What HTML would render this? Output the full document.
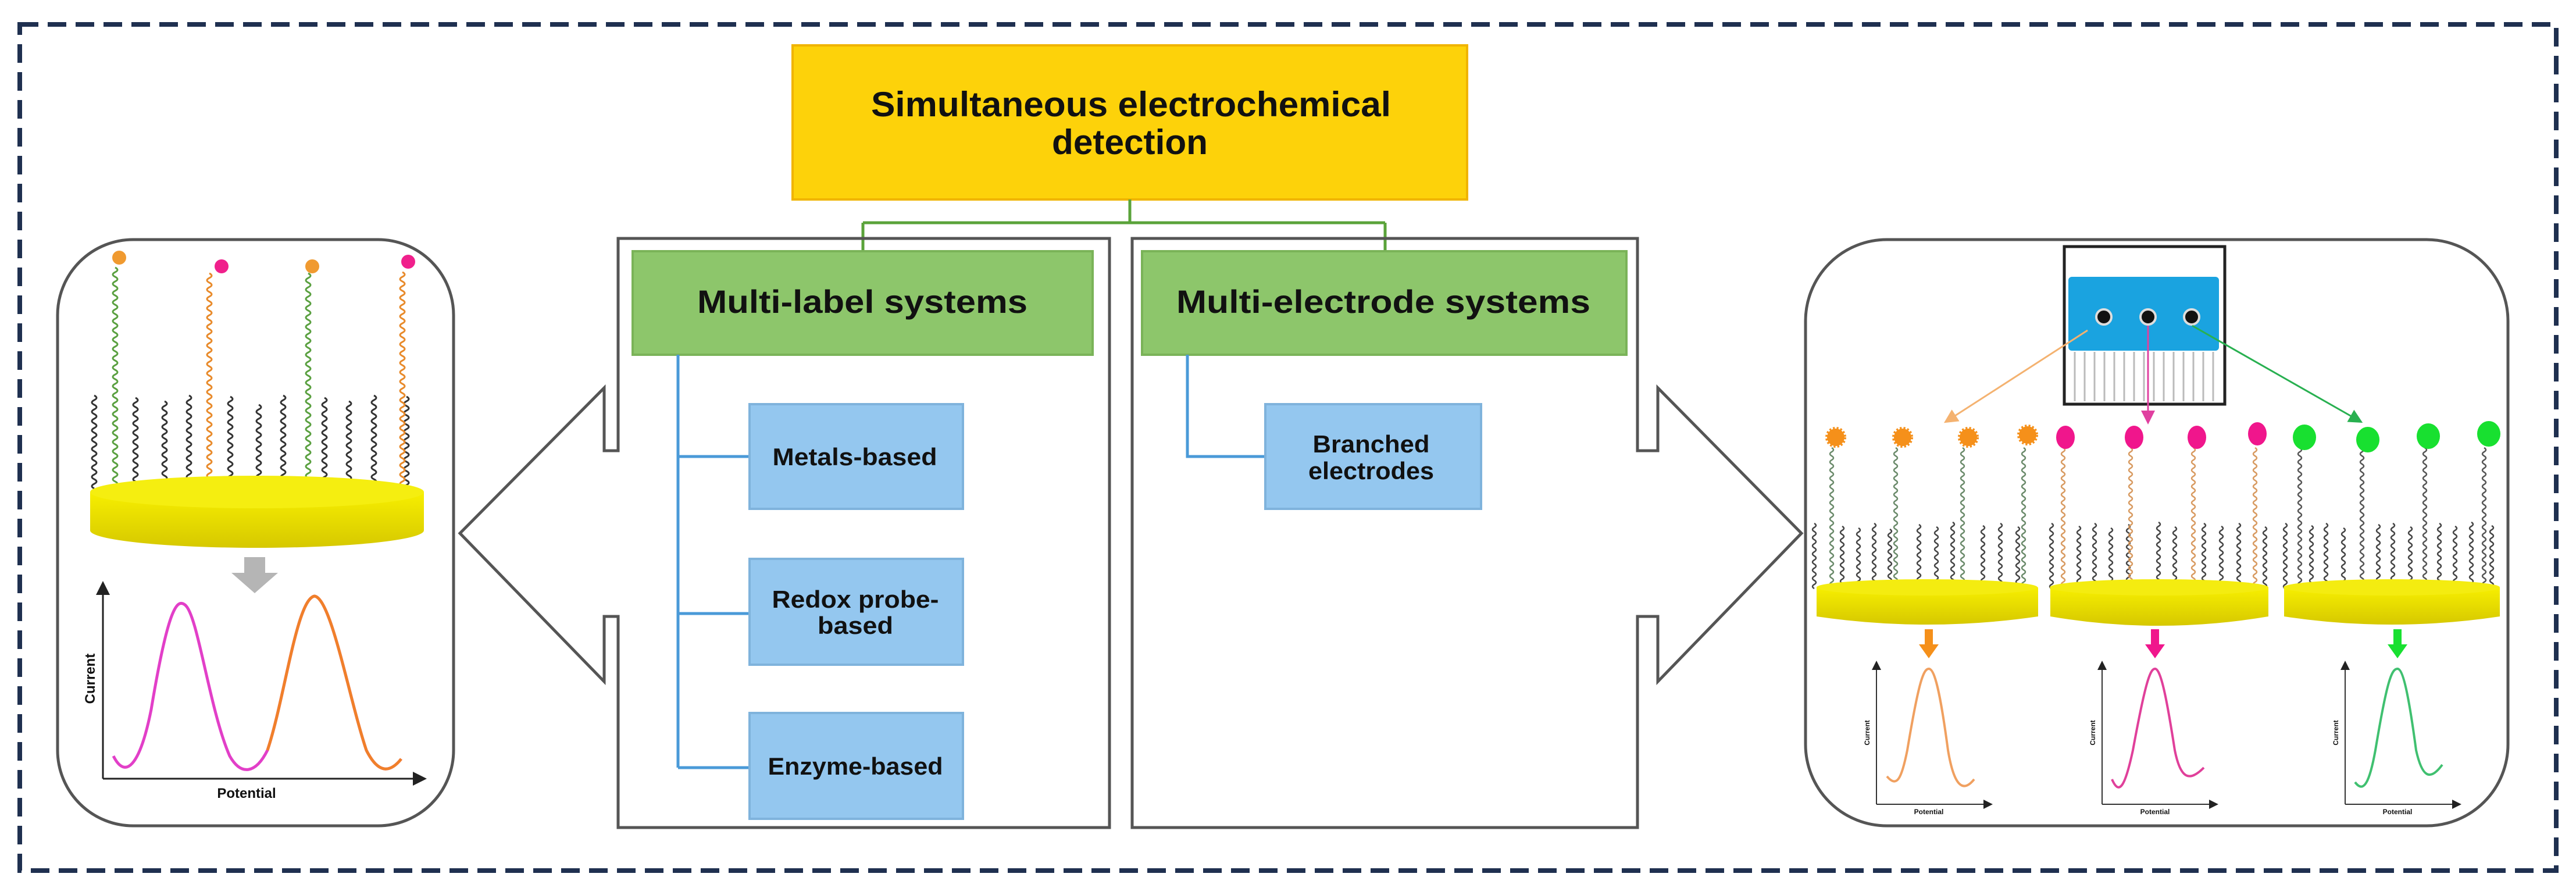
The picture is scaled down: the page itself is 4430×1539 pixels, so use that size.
<!DOCTYPE html>
<html><head><meta charset="utf-8"><style>
html,body{margin:0;padding:0;background:#fff}
svg{display:block}
text{font-family:"Liberation Sans",sans-serif;font-weight:bold;fill:#111}
</style></head><body>
<svg width="4430" height="1539" viewBox="0 0 4430 1539" xmlns="http://www.w3.org/2000/svg">
<defs>
<path id="sl" fill="none" stroke-width="3" d="M0 0 q8 4 0 8 t0 8 t0 8 t0 8 t0 8 t0 8 t0 8 t0 8 t0 8 t0 8 t0 8 t0 8 t0 8 t0 8 t0 8 t0 8 t0 8 t0 8 t0 8 t0 8"/>
<path id="ll" fill="none" stroke-width="3" d="M0 0 q8 4 0 8 t0 8 t0 8 t0 8 t0 8 t0 8 t0 8 t0 8 t0 8 t0 8 t0 8 t0 8 t0 8 t0 8 t0 8 t0 8 t0 8 t0 8 t0 8 t0 8 t0 8 t0 8 t0 8 t0 8 t0 8 t0 8 t0 8 t0 8 t0 8 t0 8 t0 8 t0 8 t0 8 t0 8 t0 8 t0 8 t0 8 t0 8 t0 8 t0 8 t0 8 t0 8 t0 8 t0 8 t0 8 t0 8 t0 8"/>
<path id="sr" fill="none" stroke-width="2.5" d="M0 0 q6 3.5 0 7 t0 7 t0 7 t0 7 t0 7 t0 7 t0 7 t0 7 t0 7 t0 7 t0 7 t0 7 t0 7 t0 7 t0 7 t0 7"/>
<path id="lr" fill="none" stroke-width="2.5" d="M0 0 q6 3.5 0 7 t0 7 t0 7 t0 7 t0 7 t0 7 t0 7 t0 7 t0 7 t0 7 t0 7 t0 7 t0 7 t0 7 t0 7 t0 7 t0 7 t0 7 t0 7 t0 7 t0 7 t0 7 t0 7 t0 7 t0 7 t0 7 t0 7 t0 7 t0 7 t0 7 t0 7 t0 7 t0 7 t0 7 t0 7"/>
<linearGradient id="gold" x1="0" y1="0" x2="0" y2="1"><stop offset="0" stop-color="#f7ef00"/><stop offset="1" stop-color="#d6c800"/></linearGradient>
<marker id="ao" markerWidth="8" markerHeight="8" refX="6" refY="4" orient="auto"><path d="M0 0 L8 4 L0 8 Z" fill="#f4b270"/></marker>
<marker id="ap" markerWidth="8" markerHeight="8" refX="6" refY="4" orient="auto"><path d="M0 0 L8 4 L0 8 Z" fill="#e040a0"/></marker>
<marker id="ag" markerWidth="8" markerHeight="8" refX="6" refY="4" orient="auto"><path d="M0 0 L8 4 L0 8 Z" fill="#28b050"/></marker>
<marker id="ax" markerWidth="8" markerHeight="8" refX="6" refY="4" orient="auto"><path d="M0 0 L8 4 L0 8 Z" fill="#222"/></marker>
</defs>

<!-- dashed frame -->
<rect x="34" y="42" width="4362" height="1455" fill="none" stroke="#1f3050" stroke-width="8" stroke-dasharray="32 16"/>

<!-- yellow title -->
<rect x="1363" y="78" width="1160" height="265" fill="#fdd20a" stroke="#f0b400" stroke-width="4"/>
<text x="1945" y="200" font-size="60" text-anchor="middle" textLength="894" lengthAdjust="spacingAndGlyphs">Simultaneous electrochemical</text>
<text x="1943" y="265" font-size="60" text-anchor="middle" textLength="268" lengthAdjust="spacingAndGlyphs">detection</text>

<!-- green connectors -->
<path d="M1943 343 V383 M1484 383 H2382 M1484 383 V432 M2382 383 V432" stroke="#5aa33a" stroke-width="5" fill="none"/>

<!-- outer boxes with arrows -->
<path d="M1063 410 H1908 V1423 H1063 V1060 H1039 V1172 L791 917 L1039 667 V775 H1063 Z" fill="none" stroke="#555" stroke-width="5"/>
<path d="M1947 410 H2816 V775 H2851 V667 L3098 917 L2851 1172 V1060 H2816 V1423 H1947 Z" fill="none" stroke="#555" stroke-width="5"/>

<!-- green boxes -->
<rect x="1088" y="432" width="791" height="178" fill="#8dc66b" stroke="#7ab358" stroke-width="4"/>
<text x="1483" y="538" font-size="56" text-anchor="middle" textLength="568" lengthAdjust="spacingAndGlyphs">Multi-label systems</text>
<rect x="1964" y="432" width="833" height="178" fill="#8dc66b" stroke="#7ab358" stroke-width="4"/>
<text x="2379" y="538" font-size="56" text-anchor="middle" textLength="712" lengthAdjust="spacingAndGlyphs">Multi-electrode systems</text>

<!-- blue tree -->
<path d="M1166 610 V1320 M1166 785 H1289 M1166 1055 H1289 M1166 1320 H1289 M2042 610 V785 H2176" stroke="#4a9ad8" stroke-width="5" fill="none"/>
<g fill="#94c7ef" stroke="#7fb3dc" stroke-width="4">
<rect x="1289" y="695" width="367" height="180"/>
<rect x="1289" y="961" width="367" height="182"/>
<rect x="1289" y="1226" width="367" height="182"/>
<rect x="2176" y="695" width="371" height="180"/>
</g>
<text x="1470" y="800" font-size="42" text-anchor="middle" textLength="283" lengthAdjust="spacingAndGlyphs">Metals-based</text>
<text x="1471" y="1045" font-size="42" text-anchor="middle" textLength="287" lengthAdjust="spacingAndGlyphs">Redox probe-</text>
<text x="1471" y="1090" font-size="42" text-anchor="middle" textLength="130" lengthAdjust="spacingAndGlyphs">based</text>
<text x="1471" y="1332" font-size="42" text-anchor="middle" textLength="301" lengthAdjust="spacingAndGlyphs">Enzyme-based</text>
<text x="2358" y="778" font-size="42" text-anchor="middle" textLength="201" lengthAdjust="spacingAndGlyphs">Branched</text>
<text x="2358" y="824" font-size="42" text-anchor="middle" textLength="216" lengthAdjust="spacingAndGlyphs">electrodes</text>

<!-- LEFT PANEL -->
<rect x="99" y="412" width="681" height="1008" rx="130" fill="#fff" stroke="#555" stroke-width="5"/>
<g stroke="#333">
<use href="#sl" x="162" y="680"/><use href="#sl" x="233" y="684"/><use href="#sl" x="283" y="690"/><use href="#sl" x="325" y="680"/>
<use href="#sl" x="396" y="682"/><use href="#sl" x="445" y="696"/><use href="#sl" x="487" y="680"/><use href="#sl" x="558" y="684"/>
<use href="#sl" x="600" y="690"/><use href="#sl" x="643" y="680"/><use href="#sl" x="699" y="682"/>
</g>
<use href="#ll" x="198" y="460" stroke="#5aa040"/>
<use href="#ll" x="360" y="470" stroke="#e88a2a"/>
<use href="#ll" x="530" y="470" stroke="#5aa040"/>
<use href="#ll" x="692" y="468" stroke="#e88a2a"/>
<circle cx="205" cy="443" r="12" fill="#f09a30"/>
<circle cx="381" cy="458" r="12" fill="#f0208c"/>
<circle cx="537" cy="458" r="12" fill="#f09a30"/>
<circle cx="702" cy="450" r="12" fill="#f0208c"/>
<path d="M155 846 V912 A287 30 0 0 0 729 912 V846 Z" fill="url(#gold)"/>
<ellipse cx="442" cy="846" rx="287" ry="28" fill="#f5ee10"/>
<path d="M420 958 H456 V985 H478 L438 1020 L398 985 H420 Z" fill="#b5b5b5"/>
<path d="M177 1339 V1005 M177 1339 H728" stroke="#222" stroke-width="3" fill="none" marker-end="url(#ax)"/>
<path d="M177 1339 V1005" stroke="#222" stroke-width="3" marker-end="url(#ax)"/>
<path d="M195 1300 C215 1340 240 1320 260 1220 C290 1040 305 1030 318 1040 C340 1055 360 1220 395 1300 C415 1335 440 1330 460 1290 C490 1200 510 1030 541 1025 C570 1030 600 1200 630 1290 C650 1330 670 1330 690 1305" fill="none" stroke="#e23fc8" stroke-width="5"/>
<path d="M460 1290 C490 1200 510 1030 541 1025 C570 1030 600 1200 630 1290 C650 1330 670 1330 690 1305" fill="none" stroke="#f0802a" stroke-width="5"/>
<text x="163" y="1167" font-size="24" text-anchor="middle" transform="rotate(-90 163 1167)">Current</text>
<text x="424" y="1372" font-size="24" text-anchor="middle">Potential</text>

<!-- RIGHT PANEL -->
<rect x="3105" y="412" width="1208" height="1008" rx="140" fill="#fff" stroke="#555" stroke-width="5"/>
<rect x="3550" y="424" width="276" height="271" fill="#fff" stroke="#222" stroke-width="5"/>
<rect x="3557" y="476" width="259" height="127" rx="6" fill="#1aa3e0"/>
<g stroke="#bbb" stroke-width="3">
<path d="M3568 605 V690 M3585 605 V690 M3602 605 V690 M3619 605 V690 M3636 605 V690 M3653 605 V690 M3670 605 V690 M3687 605 V690 M3704 605 V690 M3721 605 V690 M3738 605 V690 M3755 605 V690 M3772 605 V690 M3789 605 V690 M3806 605 V690"/>
</g>
<g fill="#111" stroke="#ddd" stroke-width="4">
<circle cx="3618" cy="545" r="13"/><circle cx="3694" cy="545" r="13"/><circle cx="3769" cy="545" r="13"/>
</g>
<path d="M3590 568 L3348 724" stroke="#f4b270" stroke-width="3" marker-end="url(#ao)"/>
<path d="M3694 560 V724" stroke="#e040a0" stroke-width="3" marker-end="url(#ap)"/>
<path d="M3770 560 L4058 724" stroke="#28b050" stroke-width="3" marker-end="url(#ag)"/>
<g stroke="#444">
<use href="#sr" x="3120" y="900"/><use href="#sr" x="3168" y="905"/><use href="#sr" x="3196" y="908"/><use href="#sr" x="3223" y="900"/><use href="#sr" x="3250" y="910"/><use href="#sr" x="3300" y="902"/><use href="#sr" x="3330" y="906"/><use href="#sr" x="3358" y="898"/><use href="#sr" x="3410" y="904"/><use href="#sr" x="3440" y="900"/><use href="#sr" x="3470" y="906"/>
<use href="#sr" x="3528" y="900"/><use href="#sr" x="3575" y="905"/><use href="#sr" x="3602" y="900"/><use href="#sr" x="3630" y="908"/><use href="#sr" x="3660" y="902"/><use href="#sr" x="3712" y="898"/><use href="#sr" x="3740" y="906"/><use href="#sr" x="3790" y="900"/><use href="#sr" x="3820" y="905"/><use href="#sr" x="3850" y="900"/><use href="#sr" x="3895" y="906"/>
<use href="#sr" x="3930" y="900"/><use href="#sr" x="3975" y="904"/><use href="#sr" x="4000" y="900"/><use href="#sr" x="4030" y="908"/><use href="#sr" x="4090" y="902"/><use href="#sr" x="4115" y="900"/><use href="#sr" x="4145" y="906"/><use href="#sr" x="4195" y="900"/><use href="#sr" x="4222" y="905"/><use href="#sr" x="4250" y="898"/><use href="#sr" x="4285" y="904"/>
</g>
<g stroke="#6a8a6a">
<use href="#lr" x="3150" y="770"/><use href="#lr" x="3260" y="770"/><use href="#lr" x="3375" y="770"/><use href="#lr" x="3480" y="770"/>
</g>
<g stroke="#d89a60">
<use href="#lr" x="3548" y="770"/><use href="#lr" x="3664" y="770"/><use href="#lr" x="3772" y="770"/><use href="#lr" x="3878" y="770"/>
</g>
<g stroke="#555">
<use href="#lr" x="3955" y="770"/><use href="#lr" x="4062" y="770"/><use href="#lr" x="4170" y="770"/><use href="#lr" x="4272" y="770"/>
</g>
<g fill="#f5901a" stroke="#f5901a" stroke-width="6" stroke-dasharray="3 3">
<circle cx="3157" cy="752" r="15"/><circle cx="3272" cy="752" r="15"/><circle cx="3385" cy="752" r="15"/><circle cx="3487" cy="748" r="15"/>
</g>
<g fill="#f0168c">
<ellipse cx="3552" cy="752" rx="16" ry="20"/><ellipse cx="3670" cy="752" rx="16" ry="20"/><ellipse cx="3778" cy="752" rx="16" ry="20"/><ellipse cx="3882" cy="746" rx="16" ry="20"/>
</g>
<g fill="#18e030">
<ellipse cx="3963" cy="752" rx="20" ry="22"/><ellipse cx="4072" cy="756" rx="20" ry="22"/><ellipse cx="4176" cy="750" rx="20" ry="22"/><ellipse cx="4280" cy="746" rx="20" ry="22"/>
</g>
<g fill="url(#gold)">
<path d="M3124 1010 V1060 Q3314 1088 3505 1060 V1010 Z"/>
<path d="M3526 1010 V1060 Q3713 1092 3901 1060 V1010 Z"/>
<path d="M3928 1010 V1060 Q4113 1088 4299 1060 V1010 Z"/>
</g>
<g fill="#f4ec10">
<ellipse cx="3314" cy="1010" rx="190" ry="14"/><ellipse cx="3713" cy="1010" rx="188" ry="14"/><ellipse cx="4113" cy="1010" rx="186" ry="14"/>
</g>
<path d="M3310 1082 H3324 V1108 H3334 L3317 1132 L3300 1108 H3310 Z" fill="#f5901a"/>
<path d="M3699 1082 H3713 V1108 H3723 L3706 1132 L3689 1108 H3699 Z" fill="#f0168c"/>
<path d="M4116 1082 H4130 V1108 H4140 L4123 1132 L4106 1108 H4116 Z" fill="#18e030"/>
<g stroke="#333" stroke-width="2" fill="none">
<path d="M3227 1383 V1140 M3227 1383 H3423" marker-end="url(#ax)"/><path d="M3227 1383 V1140" marker-end="url(#ax)"/>
<path d="M3615 1383 V1140 M3615 1383 H3811" marker-end="url(#ax)"/><path d="M3615 1383 V1140" marker-end="url(#ax)"/>
<path d="M4033 1383 V1140 M4033 1383 H4229" marker-end="url(#ax)"/><path d="M4033 1383 V1140" marker-end="url(#ax)"/>
</g>
<path d="M3245 1335 C3262 1355 3270 1340 3280 1290 C3300 1170 3308 1150 3317 1150 C3328 1150 3338 1200 3350 1290 C3360 1350 3375 1365 3395 1340" fill="none" stroke="#f0a060" stroke-width="4"/>
<path d="M3632 1340 C3645 1370 3655 1350 3668 1290 C3690 1170 3698 1150 3706 1150 C3716 1150 3726 1200 3740 1290 C3750 1340 3765 1345 3790 1320" fill="none" stroke="#e0409a" stroke-width="4"/>
<path d="M4050 1345 C4065 1365 4075 1345 4085 1290 C4105 1170 4113 1150 4123 1150 C4133 1150 4143 1200 4155 1290 C4165 1335 4178 1345 4200 1315" fill="none" stroke="#40c070" stroke-width="4"/>
<g font-size="12">
<text x="3215" y="1260" text-anchor="middle" transform="rotate(-90 3215 1260)">Current</text>
<text x="3603" y="1260" text-anchor="middle" transform="rotate(-90 3603 1260)">Current</text>
<text x="4021" y="1260" text-anchor="middle" transform="rotate(-90 4021 1260)">Current</text>
<text x="3317" y="1400" text-anchor="middle">Potential</text>
<text x="3706" y="1400" text-anchor="middle">Potential</text>
<text x="4123" y="1400" text-anchor="middle">Potential</text>
</g>
</svg>
</body></html>
